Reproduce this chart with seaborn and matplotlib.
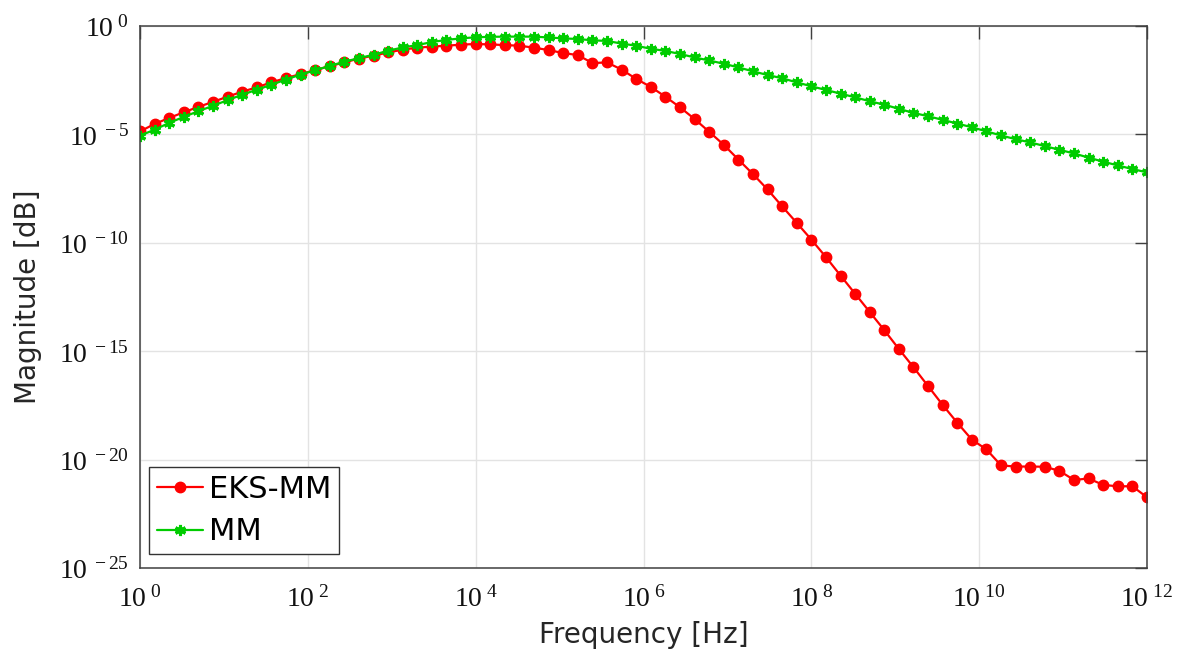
import numpy as np
import pandas as pd
import matplotlib
matplotlib.use("Agg")
import matplotlib.pyplot as plt
import seaborn as sns

# Frequency sweep: 70 log-spaced points from 1 Hz to 1 THz
freq = np.logspace(0, 12, 70)

# Magnitude responses, stored as log10 values
eks_mm_log10 = [
    -4.86, -4.52, -4.24, -3.98, -3.73, -3.50, -3.26, -3.03, -2.83, -2.60,
    -2.40, -2.22, -2.04, -1.85, -1.68, -1.50, -1.37, -1.22, -1.09, -1.00,
    -0.95, -0.91, -0.86, -0.83, -0.85, -0.88, -0.91, -1.00, -1.11, -1.25,
    -1.34, -1.71, -1.68, -2.01, -2.44, -2.81, -3.26, -3.75, -4.29, -4.88,
    -5.48, -6.16, -6.83, -7.54, -8.32, -9.08, -9.85, -10.66, -11.51, -12.35,
    -13.19, -14.03, -14.90, -15.74, -16.61, -17.48, -18.30, -19.08, -19.53, -20.27,
    -20.32, -20.32, -20.33, -20.52, -20.94, -20.87, -21.17, -21.23, -21.23, -21.74,
]
mm_log10 = [
    -5.06, -4.78, -4.47, -4.19, -3.93, -3.68, -3.42, -3.17, -2.94, -2.71,
    -2.47, -2.24, -2.04, -1.84, -1.65, -1.48, -1.33, -1.14, -0.99, -0.88,
    -0.74, -0.64, -0.57, -0.52, -0.50, -0.49, -0.49, -0.49, -0.53, -0.57,
    -0.60, -0.66, -0.69, -0.81, -0.91, -1.05, -1.15, -1.29, -1.45, -1.59,
    -1.74, -1.91, -2.09, -2.26, -2.41, -2.60, -2.78, -2.95, -3.12, -3.29,
    -3.47, -3.63, -3.82, -4.01, -4.16, -4.33, -4.50, -4.67, -4.86, -5.05,
    -5.22, -5.37, -5.54, -5.71, -5.88, -6.07, -6.26, -6.43, -6.60, -6.75,
]

series_names = ["EKS-MM", "MM"]
series_colors = ["#ff0000", "#00cc00"]

x_tick_exps = [0, 2, 4, 6, 8, 10, 12]
y_tick_exps = [-25, -20, -15, -10, -5, 0]

sns.set_style("white")
plt.rcParams["font.family"] = ["DejaVu Sans"]
plt.rcParams["mathtext.fontset"] = "custom"
plt.rcParams["mathtext.rm"] = "Liberation Serif"
plt.rcParams["mathtext.it"] = "Liberation Serif:italic"
plt.rcParams["mathtext.bf"] = "Liberation Serif:bold"

df = pd.DataFrame({
    "freq": np.concatenate([freq, freq]),
    "mag": np.concatenate([10.0 ** np.array(eks_mm_log10), 10.0 ** np.array(mm_log10)]),
    "method": [series_names[0]] * len(freq) + [series_names[1]] * len(freq),
})

fig = plt.figure(figsize=(11.83, 6.52), dpi=100)
ax = fig.add_axes([140 / 1183, 1 - 568 / 652, (1147 - 140) / 1183, (568 - 26) / 652])

sns.lineplot(data=df[df.method == series_names[0]], x="freq", y="mag", ax=ax,
             color=series_colors[0], marker="o", markersize=7.5,
             markeredgecolor=series_colors[0], markeredgewidth=1,
             linewidth=1.6, label=series_names[0])
sns.lineplot(data=df[df.method == series_names[1]], x="freq", y="mag", ax=ax,
             color=series_colors[1], marker=(6, 2, 0), markersize=8,
             markeredgecolor=series_colors[1], markeredgewidth=2.2,
             linewidth=1.6, label=series_names[1])

ax.set_xscale("log")
ax.set_yscale("log")
ax.set_xlim(1e0, 1e12)
ax.set_ylim(1e-25, 1e0)

ax.set_xticks([10.0 ** e for e in x_tick_exps])
ax.set_xticklabels([r"$\mathrm{10^{\ %d}}$" % e for e in x_tick_exps])
ax.set_yticks([10.0 ** e for e in y_tick_exps])
ax.set_yticklabels([r"$\mathrm{10^{\ %d}}$" % e for e in y_tick_exps])
ax.minorticks_off()

ax.tick_params(axis="both", which="major", direction="in", length=9, width=1,
               color="#404040", labelcolor="#111111", labelsize=20,
               top=True, right=True)
ax.tick_params(axis="x", pad=12)
ax.tick_params(axis="y", pad=8)

ax.grid(True, which="major", color="#e3e3e3", linewidth=1)
ax.set_axisbelow(True)
for side in ["left", "right", "top", "bottom"]:
    ax.spines[side].set_visible(True)
    ax.spines[side].set_color("#404040")
    ax.spines[side].set_linewidth(1.1)

ax.set_xlabel("Frequency [Hz]", fontsize=20, color="#262626")
ax.set_ylabel("Magnitude [dB]", fontsize=20, color="#262626")
ax.xaxis.set_label_coords(0.5, -0.098)
ax.yaxis.set_label_coords(-0.097, 0.5)

leg = ax.legend(loc="lower left", bbox_to_anchor=(0.009, 0.026), fontsize=22,
                frameon=True, fancybox=False, framealpha=1, edgecolor="#333333",
                handlelength=1.5, handletextpad=0.2, borderpad=0.25,
                labelspacing=0.45, borderaxespad=0)
leg.get_frame().set_linewidth(1)
for txt in leg.get_texts():
    txt.set_color("black")

fig.savefig("out.png", dpi=100, facecolor="white")
